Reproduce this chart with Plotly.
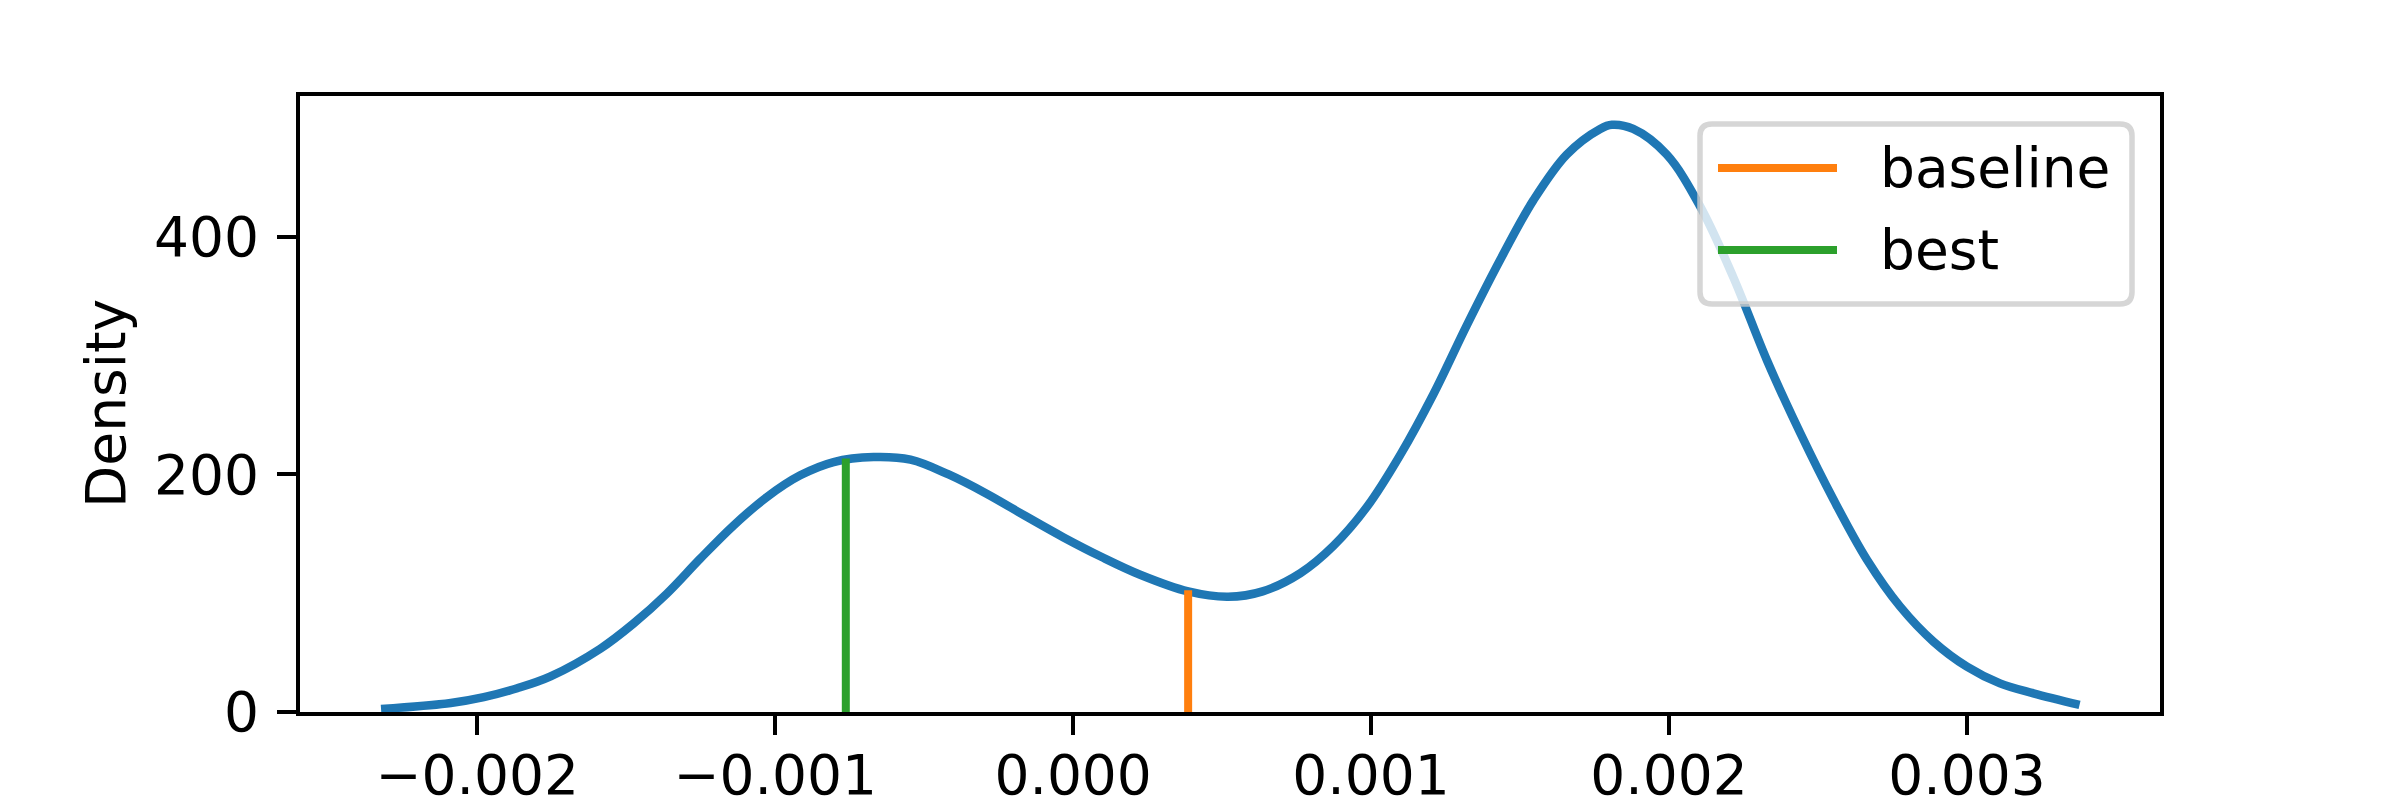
import plotly.graph_objects as go

# KDE curve (x in units of 1e-3)
kde_x = [-2.323, -2.089, -1.978, -1.866, -1.754, -1.587, -1.476, -1.364, -1.252, -1.140,
         -1.028, -0.916, -0.804, -0.670, -0.546, -0.418, -0.289, -0.160, -0.032, 0.096,
         0.225, 0.386, 0.520, 0.636, 0.763, 0.874, 0.987, 1.098, 1.210, 1.322,
         1.434, 1.545, 1.657, 1.769, 1.808, 1.880, 1.992, 2.104, 2.216, 2.329,
         2.441, 2.553, 2.665, 2.776, 2.888, 3.000, 3.111, 3.223, 3.378]
kde_y = [2.5, 7.6, 12.5, 20, 30, 53.3, 74.4, 99.6, 129, 157,
         181, 199.3, 210.5, 214.7, 212.5, 200, 183.6, 165, 147, 130.5,
         115.6, 101.5, 97, 101.6, 117, 140, 173, 216.5, 268, 326,
         381, 431, 469.5, 491, 494.5, 491, 469.5, 426, 366, 296,
         234.7, 178.5, 128, 88.7, 59.2, 38.2, 24.1, 15.7, 6]

baseline_x = 0.000386
baseline_y = 102.5
best_x = -0.000763
best_y = 213.5

xtick_vals = [-0.002, -0.001, 0.0, 0.001, 0.002, 0.003]
xtick_text = ["\u22120.002", "\u22120.001", "0.000", "0.001", "0.002", "0.003"]
ytick_vals = [0, 200, 400]

BLUE = "#1f77b4"
ORANGE = "#ff7f0e"
GREEN = "#2ca02c"
FONT = "DejaVu Sans"
FS = 55

# page coordinates of the axes box (the page body adds an 8px offset)
OFF = 8
W, H = 2400 - OFF, 800 - OFF
L, R, T, B = 300, 2160, 96, 712


def px(x, y):
    return (x - L) / (R - L), (B - y) / (B - T)


fig = go.Figure()
fig.add_trace(go.Scatter(x=[v * 1e-3 for v in kde_x], y=kde_y, mode="lines",
                         line=dict(color=BLUE, width=8.5, shape="spline", smoothing=1.0),
                         showlegend=False))
fig.add_trace(go.Scatter(x=[baseline_x, baseline_x], y=[0, baseline_y], mode="lines",
                         line=dict(color=ORANGE, width=8), name="baseline", showlegend=False))
fig.add_trace(go.Scatter(x=[best_x, best_x], y=[0, best_y], mode="lines",
                         line=dict(color=GREEN, width=8), name="best", showlegend=False))

axis_common = dict(showline=True, mirror=True, linecolor="black", linewidth=4,
                   ticks="outside", ticklen=19, tickwidth=4, tickcolor="black",
                   showgrid=False, zeroline=False, automargin=False,
                   tickfont=dict(family=FONT, size=FS, color="black"))
fig.update_xaxes(range=[-0.002595, 0.003648], tickvals=xtick_vals, ticktext=xtick_text,
                 ticklabelstandoff=-7, **axis_common)
fig.update_yaxes(range=[0, 518.7], tickvals=ytick_vals, ticklabelstandoff=7, **axis_common)

# legend box drawn by hand (matplotlib-style rounded frame)
x0, x1, y0, y1, r = 1700, 2132, 124, 304, 12
pts = [("M", x0 + r, y0), ("L", x1 - r, y0), ("Q", x1, y0, x1, y0 + r), ("L", x1, y1 - r),
       ("Q", x1, y1, x1 - r, y1), ("L", x0 + r, y1), ("Q", x0, y1, x0, y1 - r),
       ("L", x0, y0 + r), ("Q", x0, y0, x0 + r, y0)]
path = ""
for p in pts:
    cmd, coords = p[0], p[1:]
    segs = []
    for i in range(0, len(coords), 2):
        a, b = px(coords[i], coords[i + 1])
        segs.append(f"{a:.5f},{b:.5f}")
    path += cmd + " ".join(segs) + " "
path += "Z"
fig.add_shape(type="path", path=path, xref="paper", yref="paper", layer="above",
              fillcolor="rgba(255,255,255,0.8)", line=dict(color="rgba(204,204,204,0.8)", width=5.5))

for label, color, yy in [("baseline", ORANGE, 168), ("best", GREEN, 250)]:
    ax0, ay = px(1718, yy)
    ax1, _ = px(1837, yy)
    fig.add_shape(type="line", xref="paper", yref="paper", x0=ax0, x1=ax1, y0=ay, y1=ay,
                  layer="above", line=dict(color=color, width=8))
    tx, _ = px(1878, yy)
    fig.add_annotation(text=label, xref="paper", yref="paper", x=tx, y=ay, xanchor="left",
                       yanchor="middle", showarrow=False,
                       font=dict(family=FONT, size=FS, color="black"))

fig.add_annotation(text="Density", xref="paper", yref="paper", x=px(106, 0)[0], y=0.5,
                   xanchor="center", yanchor="middle", textangle=-90, showarrow=False,
                   font=dict(family=FONT, size=FS, color="black"))

fig.update_layout(width=W, height=H,
                  margin=dict(l=L - OFF, r=2400 - R, t=T - OFF, b=800 - B),
                  plot_bgcolor="white", paper_bgcolor="white",
                  font=dict(family=FONT, size=FS, color="black"))

fig.write_html("out.html")
